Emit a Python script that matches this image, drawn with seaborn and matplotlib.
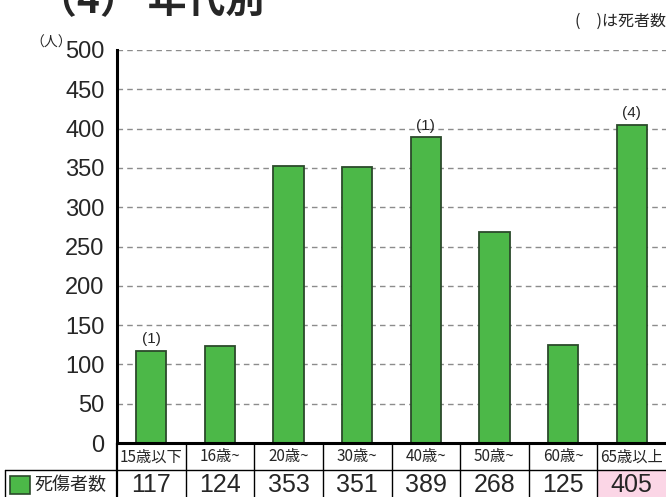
import numpy as np
import pandas as pd
import seaborn as sns
import matplotlib.pyplot as plt
from matplotlib.patches import Rectangle
from matplotlib.lines import Line2D

# 年代別 死傷者数 と 死者数
nendai = ['15歳以下', '16歳~', '20歳~', '30歳~', '40歳~', '50歳~', '60歳~', '65歳以上']
shisho = [117, 124, 353, 351, 389, 268, 125, 405]
shisha = [1, 0, 0, 0, 1, 0, 0, 4]
yticks = list(range(0, 501, 50))

sns.set_style('white')
plt.rcParams['font.family'] = ['Noto Sans CJK JP', 'DejaVu Sans']

W, H = 666, 497
fig = plt.figure(figsize=(W / 100, H / 100), dpi=100)

def fx(px):
    return px / W

def fy(py):
    return 1 - py / H

ax = fig.add_axes([fx(117), fy(443), fx(666) - fx(117), fy(50) - fy(443)])

df = pd.DataFrame({'nendai': nendai, 'shisho': shisho})
sns.barplot(data=df, x='nendai', y='shisho', color='#4cb848', saturation=1,
            width=0.44, edgecolor='#2b4a2b', linewidth=1.3, ax=ax, zorder=3)

ax.set_xlim(-0.5, len(nendai) - 0.5)
ax.set_ylim(0, 500)
ax.set_yticks(yticks)
ax.set_yticklabels([str(v) for v in yticks], fontsize=17, family=['Liberation Sans', 'DejaVu Sans'])
ax.tick_params(axis='y', direction='in', length=8, width=2, pad=9, color='black')
ax.set_xticks([])
ax.set_xlabel('')
ax.set_ylabel('')
for v in yticks[1:]:
    ax.axhline(v, color='#8c8c8c', linestyle=(0, (4, 3)), linewidth=1, zorder=1)
for s in ['top', 'right', 'bottom']:
    ax.spines[s].set_visible(False)
ax.spines['left'].set_linewidth(2.2)
ax.spines['left'].set_color('black')

# 死者数 annotations
for i, (v, d) in enumerate(zip(shisho, shisha)):
    if d > 0:
        ax.text(i, v + 6, f'({d})', ha='center', va='bottom', fontsize=11,
                family=['Liberation Sans', 'DejaVu Sans'])

# title & notes
fig.text(fx(38), fy(13), '（4） 年代別', fontsize=28, fontweight='bold', va='baseline', ha='left')
fig.text(fx(666), fy(26), '(\u3000)は死者数', fontsize=11.5, ha='right', va='baseline')
fig.text(fx(30), fy(47), '（人）', fontsize=10, ha='left', va='baseline')

# table below
x_edges = [117 + 549 / 8 * k for k in range(9)]
# pink highlight of last cell
fig.add_artist(Rectangle((fx(x_edges[-2]), fy(497)), fx(666) - fx(x_edges[-2]), fy(470) - fy(497),
                         transform=fig.transFigure, facecolor='#fbd6e6', edgecolor='none', zorder=0))
lw = 1.0
fig.add_artist(Line2D([fx(117), fx(666)], [fy(443), fy(443)], color='black', lw=2.2, transform=fig.transFigure))
fig.add_artist(Line2D([fx(5), fx(666)], [fy(470), fy(470)], color='black', lw=lw, transform=fig.transFigure))
fig.add_artist(Line2D([fx(5), fx(5)], [fy(470), fy(497)], color='black', lw=lw, transform=fig.transFigure))
for k, xe in enumerate(x_edges[:-1]):
    fig.add_artist(Line2D([fx(xe), fx(xe)], [fy(443), fy(497)], color='black', lw=lw if k else 1.6,
                          transform=fig.transFigure))
for k, (lab, v) in enumerate(zip(nendai, shisho)):
    cx = (x_edges[k] + x_edges[k + 1]) / 2
    fig.text(fx(cx), fy(457), lab, fontsize=11, ha='center', va='center')
    fig.text(fx(cx), fy(485), str(v), fontsize=18, ha='center', va='center',
             family=['Liberation Sans', 'DejaVu Sans'])

fig.add_artist(Rectangle((fx(10), fy(494)), fx(20), fy(476) - fy(494), transform=fig.transFigure,
                         facecolor='#4cb848', edgecolor='#2b4a2b', linewidth=1.2))
fig.text(fx(34), fy(485), '死傷者数', fontsize=13, ha='left', va='center')

fig.savefig('out.png', dpi=100)
